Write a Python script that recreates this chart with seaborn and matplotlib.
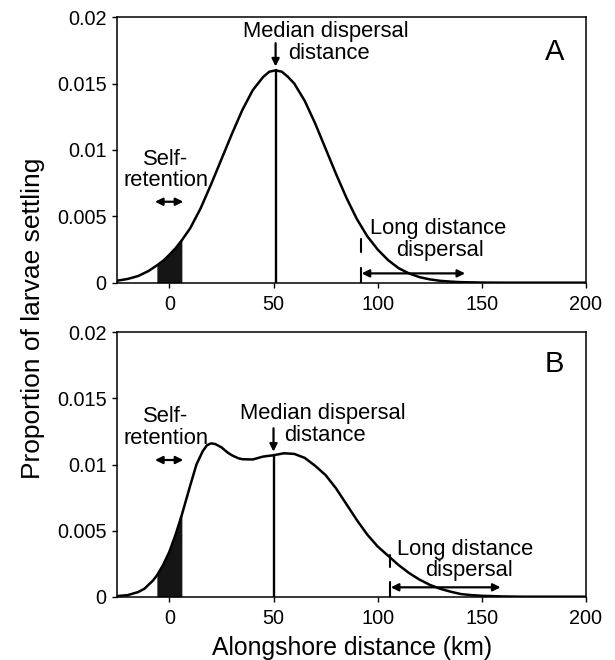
import numpy as np
import pandas as pd
import matplotlib
matplotlib.use("Agg")
import matplotlib.pyplot as plt
import seaborn as sns

# ---------------- data ----------------
dist_a = [-25, -20, -15, -10, -6, -3, 0, 3, 6, 10, 15, 20, 25, 30, 35, 40, 45, 48,
          51, 54, 57, 60, 65, 70, 75, 80, 85, 90, 95, 100, 105, 110, 115, 120, 125,
          130, 135, 140, 150, 160, 200]
prop_a = [0.00015, 0.00028, 0.0005, 0.00088, 0.0013, 0.00165, 0.0021, 0.0026, 0.0032,
          0.0041, 0.0056, 0.0074, 0.0093, 0.0112, 0.0130, 0.0145, 0.0155, 0.0159,
          0.0160, 0.0159, 0.0155, 0.0150, 0.0137, 0.0120, 0.0101, 0.0082, 0.0064,
          0.0048, 0.0035, 0.0025, 0.0017, 0.0011, 0.0007, 0.00042, 0.00025, 0.00014,
          0.00008, 0.00004, 0.00001, 0.0, 0.0]

dist_b = [-25, -20, -15, -12, -10, -8, -6, -3, 0, 3, 6, 8, 10, 13, 16, 18, 20, 22, 25,
          28, 30, 33, 35, 40, 45, 50, 55, 60, 65, 70, 75, 80, 85, 90, 95, 100, 105,
          110, 115, 120, 125, 130, 135, 140, 145, 150, 160, 170, 200]
prop_b = [0.00005, 0.00012, 0.00035, 0.0006, 0.0009, 0.0012, 0.0016, 0.0024, 0.0034,
          0.0047, 0.0062, 0.0073, 0.0084, 0.0100, 0.0110, 0.01145, 0.0116, 0.01155,
          0.0113, 0.0109, 0.0107, 0.01048, 0.0104, 0.01038, 0.0106, 0.0107, 0.01085,
          0.0108, 0.0105, 0.0099, 0.0092, 0.0082, 0.0070, 0.0058, 0.0047, 0.0038,
          0.0031, 0.0024, 0.0018, 0.0013, 0.0009, 0.0006, 0.00038, 0.0002, 0.00012,
          0.00007, 0.00002, 0.0, 0.0]

median_a = 51
median_b = 50
ldd_a = [92, 142]
ldd_b = [106, 159]
self_ret = [-6, 6]
panel_labels = ["A", "B"]

x_ticks = [0, 50, 100, 150, 200]
x_ticklabels = ["0", "50", "100", "150", "200"]
y_ticks = [0, 0.005, 0.01, 0.015, 0.02]
y_ticklabels = ["0", "0.005", "0.01", "0.015", "0.02"]

# ---------------- style ----------------
sns.set_style("ticks")
plt.rcParams["font.family"] = ["Liberation Sans", "DejaVu Sans"]
plt.rcParams["axes.linewidth"] = 1.1
plt.rcParams["text.color"] = "black"
plt.rcParams["axes.labelcolor"] = "black"

fig = plt.figure(figsize=(6.15, 6.6), dpi=100)
ax_a = fig.add_axes([0.1907, 0.5717, 0.7621, 0.4021])
ax_b = fig.add_axes([0.1907, 0.0959, 0.7621, 0.4006])

ANN = 15.8
ARW = dict(color="black", lw=1.6, mutation_scale=11, shrinkA=0, shrinkB=0)


def draw_panel(ax, dist, prop, median, ldd, label, cfg):
    df = pd.DataFrame({"dist": dist, "prop": prop})
    sns.lineplot(data=df, x="dist", y="prop", ax=ax, color="black", lw=1.8)
    # self-retention shading
    sub = df[(df["dist"] >= self_ret[0]) & (df["dist"] <= self_ret[1])]
    ax.fill_between(sub["dist"], 0, sub["prop"], color="#151515", lw=0)
    # median line
    top = np.interp(median, dist, prop)
    ax.plot([median, median], [0, top], color="black", lw=1.7)
    ax.annotate("", xy=(median, cfg["med_arrow"][0]), xytext=(median, cfg["med_arrow"][1]),
                arrowprops=dict(arrowstyle="-|>", **ARW))
    # self-retention arrow
    ax.annotate("", xy=(self_ret[1] + 0.7, cfg["sr_arrow"]), xytext=(self_ret[0] - 0.9, cfg["sr_arrow"]),
                arrowprops=dict(arrowstyle="<|-|>", **ARW))
    # long distance bars and arrow
    ax.plot([ldd[0], ldd[0]], [0, cfg["bar_low"]], color="black", lw=1.5)
    ax.plot([ldd[0], ldd[0]], cfg["bar_high"], color="black", lw=1.5)
    ax.annotate("", xy=(ldd[1], cfg["ldd_arrow"]), xytext=(ldd[0] + 0.3, cfg["ldd_arrow"]),
                arrowprops=dict(arrowstyle="<|-|>", **ARW))
    # texts
    for (tx, ty, s) in cfg["texts"]:
        ax.text(tx, ty, s, ha="center", va="center", fontsize=ANN, color="black")
    ax.text(cfg["label_pos"][0], cfg["label_pos"][1], label, ha="center", va="center",
            fontsize=21, color="black")

    ax.set_xlim(-25, 200)
    ax.set_ylim(0, 0.02)
    ax.set_xticks(x_ticks)
    ax.set_xticklabels(x_ticklabels)
    ax.set_yticks(y_ticks)
    ax.set_yticklabels(y_ticklabels)
    ax.tick_params(direction="out", length=3.6, width=1.0, labelsize=14.3, colors="black")
    ax.tick_params(axis="x", pad=5)
    ax.tick_params(axis="y", pad=4)
    ax.set_xlabel("")
    ax.set_ylabel("")
    for sp in ax.spines.values():
        sp.set_visible(True)
        sp.set_color("black")


cfg_a = dict(
    med_arrow=(0.01629, 0.01805),
    sr_arrow=0.0061,
    bar_low=0.0011,
    bar_high=(0.0023, 0.0033),
    ldd_arrow=0.0007,
    texts=[(-1.7, 0.00928, "Self-"), (-1.7, 0.00770, "retention"),
           (75.0, 0.01890, "Median dispersal"), (76.8, 0.01725, "distance"),
           (129.0, 0.00409, "Long distance"), (130.0, 0.00246, "dispersal")],
    label_pos=(185, 0.0174),
)
cfg_b = dict(
    med_arrow=(0.01097, 0.01274),
    sr_arrow=0.01034,
    bar_low=0.00113,
    bar_high=(0.00227, 0.00315),
    ldd_arrow=0.00071,
    texts=[(-1.7, 0.01362, "Self-"), (-1.7, 0.01195, "retention"),
           (73.5, 0.01387, "Median dispersal"), (74.9, 0.01223, "distance"),
           (142.0, 0.00358, "Long distance"), (144.0, 0.00197, "dispersal")],
    label_pos=(185, 0.0176),
)

draw_panel(ax_a, dist_a, prop_a, median_a, ldd_a, panel_labels[0], cfg_a)
draw_panel(ax_b, dist_b, prop_b, median_b, ldd_b, panel_labels[1], cfg_b)

fig.text(352.5 / 615, 1 - 648 / 660, "Alongshore distance (km)", ha="center", va="center",
         fontsize=17.8, color="black")
fig.text(33 / 615, 1 - 318 / 660, "Proportion of larvae settling", ha="center", va="center",
         rotation=90, fontsize=19, color="black")

fig.savefig("out.png", dpi=100)
